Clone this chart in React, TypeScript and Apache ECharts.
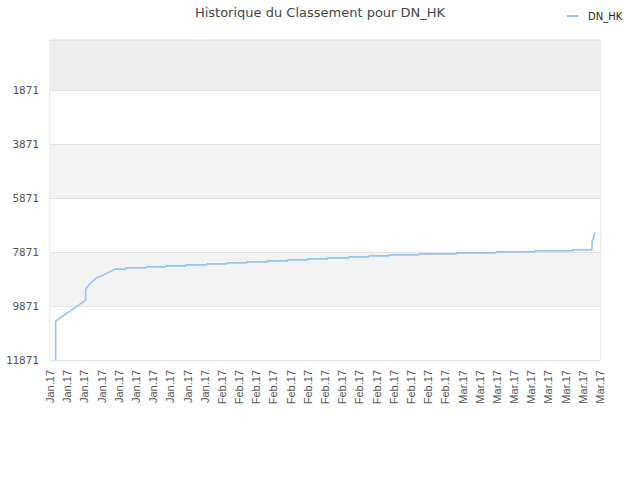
import React, { useEffect, useRef } from 'react';
import * as echarts from 'echarts';

// rang le plus bas affiché (bas de l'axe) et pas des graduations
const rankFloor = 11871;
const rankStep = 2000;

// étiquettes de l'axe des x (une tous les deux jours)
const tickLabels = [
  'Jan.17', 'Jan.17', 'Jan.17', 'Jan.17', 'Jan.17', 'Jan.17', 'Jan.17', 'Jan.17', 'Jan.17', 'Jan.17',
  'Feb.17', 'Feb.17', 'Feb.17', 'Feb.17', 'Feb.17', 'Feb.17', 'Feb.17', 'Feb.17', 'Feb.17', 'Feb.17',
  'Feb.17', 'Feb.17', 'Feb.17', 'Feb.17',
  'Mar.17', 'Mar.17', 'Mar.17', 'Mar.17', 'Mar.17', 'Mar.17', 'Mar.17', 'Mar.17', 'Mar.17',
];

// jours écoulés depuis le début de la période
const dayOffsets = [
  0.66, 0.66, 4.15, 4.15, 4.65, 5.43, 6.4, 7.56, 8.84, 8.84,
  11.17, 11.17, 13.5, 13.5, 15.82, 15.82, 18.27, 18.27, 20.6, 20.6,
  22.92, 22.92, 25.33, 25.33, 27.66, 27.66, 29.99, 29.99, 32.31, 32.31,
  34.79, 34.79, 37.12, 37.12, 39.45, 39.45, 42.94, 42.94, 47.32, 47.32,
  51.9, 51.9, 56.43, 56.43, 60.82, 60.82, 63.07, 63.07, 63.22, 63.42,
];

// classement de DN_HK
const ranks = [
  11871, 10427, 9649, 9252, 9030, 8823, 8686, 8500, 8500, 8452,
  8452, 8415, 8415, 8378, 8378, 8341, 8341, 8304, 8304, 8267,
  8267, 8230, 8230, 8193, 8193, 8156, 8156, 8119, 8119, 8082,
  8082, 8045, 8045, 8008, 8008, 7971, 7971, 7934, 7934, 7897,
  7897, 7860, 7860, 7823, 7823, 7786, 7786, 7490, 7364, 7141,
];

const lineColor = '#96c4f0';

const App: React.FC = () => {
  const chartRef = useRef<HTMLDivElement>(null);

  useEffect(() => {
    if (!chartRef.current) return;
    const chart = echarts.init(chartRef.current, undefined, { renderer: 'svg' });

    // axe inversé : on trace la distance au rang le plus bas
    const points = dayOffsets.map((d, i) => [d, rankFloor - ranks[i]]);

    chart.setOption({
      animation: false,
      backgroundColor: '#fff',
      title: {
        text: 'Historique du Classement pour DN_HK',
        left: 'center',
        top: 1,
        textStyle: {
          fontFamily: 'DejaVu Sans',
          fontSize: 13,
          fontWeight: 'normal',
          color: '#444',
        },
      },
      legend: {
        left: 567,
        top: 11,
        padding: 0,
        icon: 'rect',
        itemWidth: 11,
        itemHeight: 2,
        itemGap: 10,
        textStyle: { fontFamily: 'DejaVu Sans', fontSize: 10, color: '#222', padding: [0, 0, 0, 5] },
        data: ['DN_HK'],
      },
      grid: {
        left: 50,
        right: 40,
        top: 40,
        bottom: 120,
        show: true,
        borderColor: '#dcdcdc',
        borderWidth: 1,
        backgroundColor: 'transparent',
      },
      xAxis: {
        type: 'value',
        min: 0,
        max: (tickLabels.length - 1) * 2,
        interval: 2,
        axisLine: { show: false },
        axisTick: { show: false },
        splitLine: { show: false },
        axisLabel: {
          rotate: 90,
          margin: 10,
          fontFamily: 'Liberation Sans',
          fontSize: 11,
          color: '#555',
          formatter: (v: number) => tickLabels[Math.round(v / 2)] ?? '',
        },
      },
      yAxis: {
        type: 'value',
        min: 0,
        max: rankFloor,
        interval: rankStep,
        axisLine: { show: false },
        axisTick: { show: false },
        axisLabel: {
          margin: 11,
          fontFamily: 'DejaVu Sans Mono',
          fontSize: 11,
          color: '#555',
          showMaxLabel: false,
          formatter: (v: number) => (v >= rankFloor ? '' : String(rankFloor - v)),
        },
        splitLine: { show: true, lineStyle: { color: '#e2e2e2', width: 1 } },
        splitArea: {
          show: true,
          areaStyle: {
            color: ['#ffffff', '#f3f3f3', '#ffffff', '#f3f3f3', '#ffffff', '#ededed'],
          },
        },
      },
      series: [
        {
          name: 'DN_HK',
          type: 'line',
          data: points,
          showSymbol: false,
          symbol: 'none',
          color: lineColor,
          lineStyle: { color: lineColor, width: 1.6 },
        },
      ],
    });

    return () => {
      chart.dispose();
    };
  }, []);

  return (
    <div
      ref={chartRef}
      style={{ position: 'fixed', left: 0, top: 0, width: 640, height: 480 }}
    />
  );
};

export default App;
